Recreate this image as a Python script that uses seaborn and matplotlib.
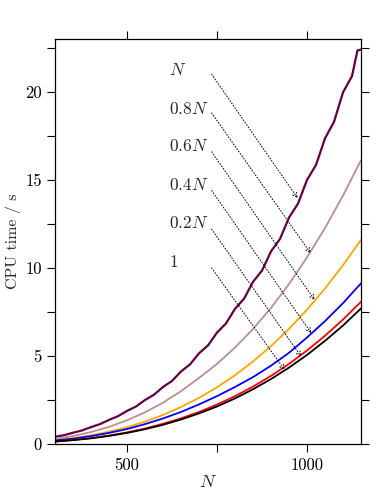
import numpy as np
import pandas as pd
import matplotlib
matplotlib.use("Agg")
import matplotlib.pyplot as plt
import seaborn as sns

# problem size N
n_values = [300, 350, 400, 450, 500, 550, 600, 650, 700, 750,
            800, 850, 900, 950, 1000, 1050, 1100, 1150]
# the "N" curve is read more finely (it has small steps)
n_fine = [300, 325, 350, 375, 400, 425, 450, 475, 500, 525, 550, 575,
          600, 625, 650, 675, 700, 725, 750, 775, 800, 825, 850, 875,
          900, 925, 950, 975, 1000, 1025, 1050, 1075, 1100, 1125, 1140, 1150]

# CPU time (s) for each setting
t_N = [0.41, 0.50, 0.64, 0.77, 0.96, 1.13, 1.37, 1.58, 1.88, 2.13, 2.50, 2.80,
       3.24, 3.58, 4.12, 4.52, 5.15, 5.60, 6.33, 6.85, 7.68, 8.25, 9.21, 9.85,
       10.94, 11.65, 12.86, 13.65, 15.0, 15.85, 17.36, 18.3, 19.97, 20.9, 22.35, 22.4]
t_08N = [0.29, 0.45, 0.68, 0.97, 1.35, 1.80, 2.35, 3.00, 3.75, 4.55,
         5.48, 6.53, 7.73, 9.09, 10.6, 12.27, 14.11, 16.12]
t_06N = [0.21, 0.33, 0.49, 0.70, 0.95, 1.27, 1.65, 2.10, 2.62, 3.22,
         3.91, 4.69, 5.56, 6.54, 7.63, 8.83, 10.16, 11.6]
t_04N = [0.20, 0.30, 0.45, 0.63, 0.85, 1.13, 1.45, 1.82, 2.25, 2.72,
         3.24, 3.80, 4.45, 5.18, 6.05, 6.98, 8.0, 9.13]
t_02N = [0.14, 0.23, 0.34, 0.48, 0.66, 0.88, 1.15, 1.46, 1.82, 2.24,
         2.72, 3.26, 3.87, 4.55, 5.31, 6.15, 7.07, 8.08]
t_1 = [0.14, 0.22, 0.32, 0.46, 0.63, 0.84, 1.09, 1.39, 1.74, 2.13,
       2.59, 3.11, 3.69, 4.34, 5.06, 5.86, 6.73, 7.7]

series = ["0.8N", "0.6N", "0.4N", "0.2N", "1"]
colors = ["#BC8F8F", "#FFA500", "#0000FF", "#FF0000", "#000000"]

labels = [r"$N$", r"$0.8N$", r"$0.6N$", r"$0.4N$", r"$0.2N$", r"$1$"]
# arrow start/end (data coords) and label positions
label_y = [21.25, 19.03, 16.9, 14.7, 12.57, 10.36]
arrow_start = [(735, 21.0), (735, 18.8), (735, 16.6), (735, 14.4), (735, 12.2), (735, 10.0)]
arrow_end = [(974, 13.96), (1010, 10.84), (1021, 8.18), (1012, 6.29), (984, 4.96), (938, 4.2)]

sns.set_style("ticks")
plt.rcParams["font.family"] = "serif"
plt.rcParams["font.serif"] = ["cmr10"]
plt.rcParams["mathtext.fontset"] = "cm"
plt.rcParams["axes.formatter.use_mathtext"] = True
plt.rcParams["font.size"] = 12

df = pd.DataFrame({"N": n_values * 5,
                   "time": t_08N + t_06N + t_04N + t_02N + t_1,
                   "case": sum([[s] * len(n_values) for s in series], [])})
df_top = pd.DataFrame({"N": n_fine, "time": t_N})

fig = plt.figure(figsize=(3.86, 4.99), dpi=100)
ax = fig.add_axes([0.1425, 0.1102, 0.7928, 0.8116])

sns.lineplot(data=df_top, x="N", y="time", color="#660044", linewidth=1.6,
             ax=ax, legend=False)
for s, c in zip(series, colors):
    sns.lineplot(data=df[df["case"] == s], x="N", y="time", color=c,
                 linewidth=1.3, ax=ax, legend=False)

for lab, ly, st, en in zip(labels, label_y, arrow_start, arrow_end):
    ax.text(618, ly, lab, ha="left", va="center", fontsize=12.5)
    ax.annotate("", xy=en, xytext=st,
                arrowprops=dict(arrowstyle="->", linestyle=(0, (1, 2)),
                                lw=0.7, color="black", shrinkA=0, shrinkB=0,
                                mutation_scale=8))

ax.set_xlim(300, 1150)
ax.set_ylim(0, 23)
ax.set_xticks([500, 750, 1000])
ax.set_xticklabels(["500", "", "1000"])
ax.set_yticks([0, 2.5, 5, 7.5, 10, 12.5, 15, 17.5, 20, 22.5])
ax.set_yticklabels(["0", "", "5", "", "10", "", "15", "", "20", ""])
ax.tick_params(direction="out", length=6, width=0.8, top=True, right=True,
               labelsize=12, colors="black")
for sp in ax.spines.values():
    sp.set_linewidth(0.9)
    sp.set_color("black")
ax.set_xlabel(r"$N$", fontsize=13, labelpad=1)
ax.set_ylabel("CPU time / s", fontsize=11.5, labelpad=3)

fig.savefig("out.png", dpi=100)
